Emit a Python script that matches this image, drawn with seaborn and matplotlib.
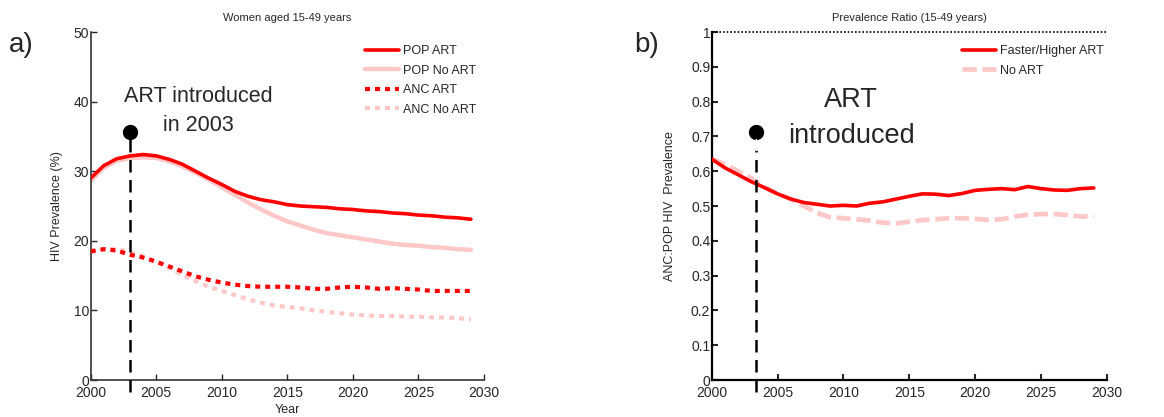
import numpy as np
import pandas as pd
import matplotlib
matplotlib.use("Agg")
import matplotlib.pyplot as plt
import seaborn as sns
from matplotlib.patches import Rectangle

# ---------------- data ----------------
years = list(range(2000, 2030))

pop_art = [29.0, 30.8, 31.8, 32.2, 32.4, 32.2, 31.7, 31.0, 30.0, 29.0,
           28.1, 27.1, 26.4, 25.9, 25.6, 25.2, 25.0, 24.9, 24.8, 24.6,
           24.5, 24.3, 24.2, 24.0, 23.9, 23.7, 23.6, 23.4, 23.3, 23.1]
pop_noart = [28.6, 30.5, 31.5, 31.9, 32.0, 31.9, 31.4, 30.7, 29.8, 28.8,
             27.7, 26.6, 25.5, 24.5, 23.6, 22.8, 22.2, 21.6, 21.1, 20.8,
             20.5, 20.2, 19.9, 19.6, 19.4, 19.3, 19.1, 19.0, 18.8, 18.7]
anc_art = [18.5, 18.8, 18.6, 18.0, 17.6, 17.0, 16.3, 15.6, 14.9, 14.4,
           14.0, 13.7, 13.5, 13.4, 13.4, 13.4, 13.3, 13.1, 13.1, 13.3,
           13.4, 13.3, 13.1, 13.2, 13.1, 13.0, 12.8, 12.8, 12.8, 12.8]
anc_noart = [18.3, 18.8, 18.8, 18.4, 17.8, 17.0, 16.1, 15.1, 14.2, 13.4,
             12.8, 12.2, 11.6, 11.1, 10.7, 10.5, 10.3, 10.0, 9.8, 9.6,
             9.4, 9.3, 9.2, 9.2, 9.1, 9.1, 9.0, 9.0, 8.9, 8.7]

ratio_art = [0.635, 0.610, 0.590, 0.570, 0.553, 0.535, 0.520, 0.510, 0.505, 0.500,
             0.502, 0.500, 0.508, 0.512, 0.520, 0.528, 0.535, 0.534, 0.530, 0.536,
             0.545, 0.548, 0.550, 0.547, 0.556, 0.550, 0.546, 0.545, 0.550, 0.552]
ratio_noart = [0.635, 0.620, 0.600, 0.580, 0.555, 0.535, 0.520, 0.500, 0.480, 0.468,
               0.465, 0.462, 0.458, 0.452, 0.450, 0.455, 0.460, 0.462, 0.465, 0.465,
               0.463, 0.460, 0.462, 0.470, 0.475, 0.477, 0.477, 0.474, 0.470, 0.470]

art_year_a = 2003.0
art_marker_a = 35.7
art_year_b = 2003.35
art_marker_b = 0.713

xticks = [2000, 2005, 2010, 2015, 2020, 2025, 2030]
yticks_a = [0, 10, 20, 30, 40, 50]
yticks_b = [0, 0.1, 0.2, 0.3, 0.4, 0.5, 0.6, 0.7, 0.8, 0.9, 1]
yticklabels_b = ["0", "0.1", "0.2", "0.3", "0.4", "0.5", "0.6", "0.7", "0.8", "0.9", "1"]

RED = "#ff0000"
PINK = "#ffc8c8"

# ---------------- style ----------------
sns.set_style("white")
plt.rcParams["font.family"] = ["Liberation Sans", "DejaVu Sans"]
plt.rcParams["xtick.direction"] = "in"
plt.rcParams["ytick.direction"] = "in"

fig = plt.figure(figsize=(11.64, 4.17), dpi=100)
axA = fig.add_axes([0.0779, 0.0887, 0.3379, 0.8345])
axB = fig.add_axes([0.6114, 0.0887, 0.3396, 0.8345])

df = pd.DataFrame({"Year": years, "pop_art": pop_art, "pop_noart": pop_noart,
                   "anc_art": anc_art, "anc_noart": anc_noart,
                   "ratio_art": ratio_art, "ratio_noart": ratio_noart})

# ---------------- panel a ----------------
sns.lineplot(data=df, x="Year", y="pop_noart", ax=axA, color=PINK, lw=3.2,
             label="POP No ART", zorder=2)
sns.lineplot(data=df, x="Year", y="pop_art", ax=axA, color=RED, lw=2.6,
             label="POP ART", zorder=3)
sns.lineplot(data=df, x="Year", y="anc_noart", ax=axA, color=PINK, lw=3.0,
             label="ANC No ART", zorder=2, linestyle=(0, (1.2, 1.2)))
sns.lineplot(data=df, x="Year", y="anc_art", ax=axA, color=RED, lw=3.0,
             label="ANC ART", zorder=3, linestyle=(0, (1.2, 1.2)))

axA.plot([art_year_a, art_year_a], [-1.7, art_marker_a], color="black", lw=1.8,
         linestyle=(0, (5, 3)), clip_on=False, zorder=4)
axA.plot([art_year_a], [art_marker_a], "o", color="black", ms=10, zorder=5)
axA.text(2008.2, 35.0, "ART introduced\nin 2003", ha="center", va="bottom",
         fontsize=15.5, linespacing=1.5, multialignment="center")

axA.set_xlim(2000, 2030)
axA.set_ylim(0, 50)
axA.set_xticks(xticks)
axA.set_yticks(yticks_a)
axA.set_title("Women aged 15-49 years", fontsize=8, pad=8)
axA.set_xlabel("Year", fontsize=9, labelpad=3)
axA.set_ylabel("HIV Prevalence (%)", fontsize=9, labelpad=8)
axA.tick_params(labelsize=10, length=4, width=1, pad=1, bottom=True, left=True,
                direction="in")
axA.tick_params(axis="x", pad=4)
for s in ["top", "right"]:
    axA.spines[s].set_visible(False)
for s in ["left", "bottom"]:
    axA.spines[s].set_color("#333333")
    axA.spines[s].set_linewidth(1.2)

hA, lA = axA.get_legend_handles_labels()
order = [lA.index(n) for n in ["POP ART", "POP No ART", "ANC ART", "ANC No ART"]]
axA.legend([hA[i] for i in order], [lA[i] for i in order], frameon=False,
           loc="upper left", bbox_to_anchor=(0.67, 0.995), fontsize=9,
           handlelength=2.7, handletextpad=0.3, labelspacing=0.6)

fig.text(0.008, 0.875, "a)", fontsize=20)

# ---------------- panel b ----------------
sns.lineplot(data=df, x="Year", y="ratio_noart", ax=axB, color=PINK, lw=3.4,
             label="No ART", zorder=2, linestyle=(0, (3, 1.2)))
sns.lineplot(data=df, x="Year", y="ratio_art", ax=axB, color=RED, lw=2.6,
             label="Faster/Higher ART", zorder=3)

axB.plot([2000, 2030], [1, 1], color="black", lw=1.2, linestyle=(0, (1, 1.2)),
         clip_on=False, zorder=4)
axB.plot([art_year_b, art_year_b], [-0.035, 0.66], color="black", lw=1.8,
         linestyle=(0, (5, 3)), clip_on=False, zorder=4)
axB.plot([art_year_b], [art_marker_b], "o", color="black", ms=10, zorder=5)
axB.plot([art_year_b, art_year_b], [art_marker_b - 0.02, 0.66], color="white",
         lw=1.0, zorder=6)

tB = axB.text(2010.6, 0.665, "ART\nintroduced", ha="center", va="bottom",
              fontsize=19.5, linespacing=1.5, multialignment="center")
clip_rect = Rectangle((2000, 0.675), 30, 0.5, transform=axB.transData)
tB.set_clip_path(clip_rect)

axB.set_xlim(2000, 2030)
axB.set_ylim(0, 1)
axB.set_xticks(xticks)
axB.set_yticks(yticks_b)
axB.set_yticklabels(yticklabels_b)
axB.set_title("Prevalence Ratio (15-49 years)", fontsize=8, pad=8)
axB.set_xlabel("")
axB.set_ylabel("ANC:POP HIV  Prevalence", fontsize=9, labelpad=11)
axB.tick_params(labelsize=10, length=4, width=1.5, pad=1, bottom=True, left=True,
                direction="in")
axB.tick_params(axis="x", pad=4)
for s in ["top", "right"]:
    axB.spines[s].set_visible(False)
for s in ["left", "bottom"]:
    axB.spines[s].set_color("black")
    axB.spines[s].set_linewidth(1.6)

hB, lB = axB.get_legend_handles_labels()
orderB = [lB.index(n) for n in ["Faster/Higher ART", "No ART"]]
axB.legend([hB[i] for i in orderB], [lB[i] for i in orderB], frameon=False,
           loc="upper left", bbox_to_anchor=(0.605, 0.995), fontsize=9,
           handlelength=2.7, handletextpad=0.3, labelspacing=0.6)

fig.text(0.545, 0.875, "b)", fontsize=20)

fig.savefig("out.png", dpi=100)
